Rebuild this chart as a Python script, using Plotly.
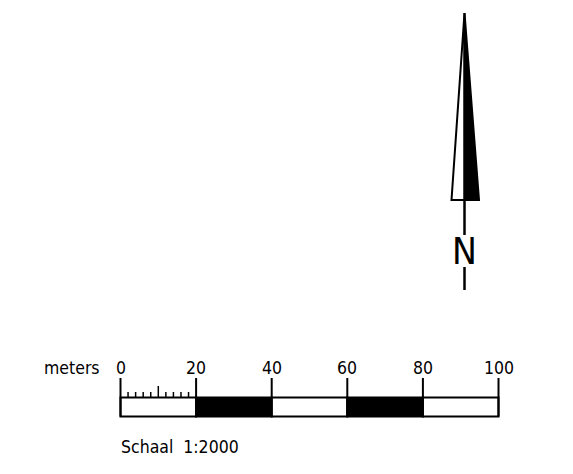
import plotly.graph_objects as go

# ---- data ----
scale_labels = [0, 20, 40, 60, 80, 100]
segment_fills = ["white", "black", "white", "black", "white"]
minor_ticks = [2, 4, 6, 8, 10, 12, 14, 16, 18]
unit_label = "meters"
scale_text = "Schaal  1:2000"
north_label = "N"

# ---- layout constants (pixel geometry of the page; body has an 8px margin) ----
OFF = 8
W, H = 573 - 2 * OFF, 474 - 2 * OFF
PX0, PX100 = 120.5 - OFF, 498.5 - OFF          # pixel positions of 0 and 100
k = (PX100 - PX0) / 100.0
xr = [-PX0 / k, (W - PX0) / k]

BAR_TOP, BAR_BOT = 397.5 - OFF, 416.5 - OFF
TICK_TOP = 378 - OFF
MINOR_TOP, MID_TOP = 392 - OFF, 386 - OFF
FONT = "DejaVu Sans Condensed"

shapes = []
# bar segments
for i, col in enumerate(segment_fills):
    shapes.append(dict(type="rect", xref="x", yref="y",
                       x0=scale_labels[i], x1=scale_labels[i + 1],
                       y0=BAR_TOP, y1=BAR_BOT, fillcolor=col,
                       line=dict(color="black", width=2)))
# major ticks
for v in scale_labels:
    shapes.append(dict(type="line", xref="x", yref="y", x0=v, x1=v,
                       y0=TICK_TOP, y1=BAR_BOT,
                       line=dict(color="black", width=2)))
# minor ticks
for v in minor_ticks:
    shapes.append(dict(type="line", xref="x", yref="y", x0=v, x1=v,
                       y0=MID_TOP if v == 10 else MINOR_TOP, y1=BAR_TOP,
                       line=dict(color="black", width=1.5)))

# north arrow (paper x, pixel y)
cx = (464.5 - OFF) / W
lx = (451.5 - OFF) / W
rx = (479 - OFF) / W
tip, base = 13 - OFF, 200 - OFF
shapes.append(dict(type="path", xref="paper", yref="y",
                   path=f"M {cx},{tip} L {lx},{base} L {cx},{base} Z",
                   fillcolor="white", line=dict(color="black", width=2)))
shapes.append(dict(type="path", xref="paper", yref="y",
                   path=f"M {cx},{tip} L {rx},{base} L {cx},{base} Z",
                   fillcolor="black", line=dict(color="black", width=2)))
shapes.append(dict(type="line", xref="paper", yref="y", x0=cx, x1=cx,
                   y0=base, y1=235 - OFF, line=dict(color="black", width=2.5)))
shapes.append(dict(type="line", xref="paper", yref="y", x0=cx, x1=cx,
                   y0=267 - OFF, y1=290 - OFF, line=dict(color="black", width=2.5)))

annotations = []
for v in scale_labels:
    annotations.append(dict(x=v, y=368 - OFF, xref="x", yref="y", text=str(v),
                            showarrow=False, xanchor="center", yanchor="middle",
                            font=dict(family=FONT, size=17.5, color="black")))
annotations.append(dict(x=(102 - OFF - PX0) / k, y=368 - OFF, xref="x", yref="y",
                        text=unit_label, showarrow=False, xanchor="right",
                        yanchor="middle",
                        font=dict(family=FONT, size=17.5, color="black")))
annotations.append(dict(x=(119 - OFF - PX0) / k, y=447 - OFF, xref="x", yref="y",
                        text=scale_text, showarrow=False, xanchor="left",
                        yanchor="middle",
                        font=dict(family=FONT, size=17.5, color="black")))
annotations.append(dict(x=cx, y=251 - OFF, xref="paper", yref="y", text=north_label,
                        showarrow=False, xanchor="center", yanchor="middle",
                        font=dict(family="DejaVu Sans Condensed", size=37,
                                  color="black")))

fig = go.Figure()
fig.add_trace(go.Scatter(x=[None], y=[None], showlegend=False))
fig.update_layout(
    width=W, height=H, autosize=False,
    margin=dict(l=0, r=0, t=0, b=0),
    paper_bgcolor="white", plot_bgcolor="white",
    xaxis=dict(range=xr, visible=False, fixedrange=True),
    yaxis=dict(range=[H, 0], visible=False, fixedrange=True),
    shapes=shapes, annotations=annotations, showlegend=False,
)
fig.write_html("out.html")
